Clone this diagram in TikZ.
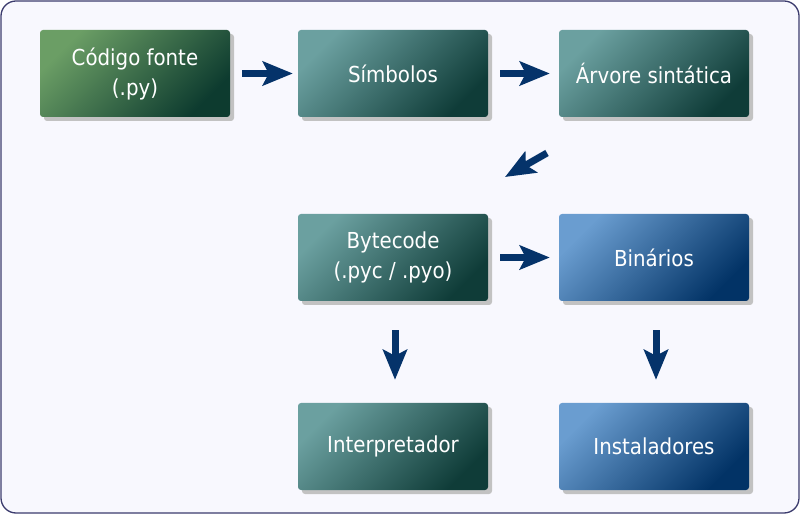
\documentclass[tikz,border=0pt]{standalone}
\usepackage{fontspec}
\setmainfont{DejaVu Sans Condensed}
\usetikzlibrary{arrows.meta,shadows}
\definecolor{bgfill}{HTML}{F8F8FE}
\definecolor{bgline}{HTML}{3C3C6E}
\definecolor{arrowblue}{HTML}{05336A}
\definecolor{greenL}{HTML}{6B9E65}
\definecolor{greenD}{HTML}{0D3B2F}
\definecolor{tealL}{HTML}{6BA0A0}
\definecolor{tealD}{HTML}{0F3C38}
\definecolor{blueL}{HTML}{6A9DD0}
\definecolor{blueD}{HTML}{023366}
\definecolor{shadowgray}{HTML}{C2C2C2}
\tikzset{
  box/.style={rectangle, rounded corners=3pt, minimum width=190pt, minimum height=87pt,
    text=white, align=center, font=\fontsize{22}{30}\selectfont,
    drop shadow={fill=shadowgray, opacity=1, shadow xshift=4pt, shadow yshift=-4pt}},
  greenbox/.style={box, top color=greenL, bottom color=greenD, shading angle=45},
  tealbox/.style={box, top color=tealL, bottom color=tealD, shading angle=45},
  bluebox/.style={box, top color=blueL, bottom color=blueD, shading angle=45},
  blockarrow/.style={draw=arrowblue, line width=7pt,
    -{Stealth[length=30pt,width=24pt,inset=6pt,fill=arrowblue]}},
}
\begin{document}
\begin{tikzpicture}[x=1pt,y=1pt]
\useasboundingbox (0,0) rectangle (800,514);
\draw[fill=bgfill, draw=bgline, line width=1.3pt, rounded corners=15pt] (1,1) rectangle (799,513);

\node[greenbox] (src) at (135,440.5) {Código fonte\\(.py)};
\node[tealbox] (sym) at (393,440.5) {Símbolos};
\node[tealbox] (ast) at (654,440.5) {Árvore sintática};
\node[tealbox] (byte) at (393,256.5) {Bytecode\\(.pyc / .pyo)};
\node[bluebox] (bin) at (654,256.5) {Binários};
\node[tealbox] (interp) at (393,67.5) {Interpretador};
\node[bluebox] (inst) at (654,67.5) {Instaladores};

\coordinate (d1) at (547,361);
\coordinate (d2) at (505,337);

\draw[blockarrow, shorten <=12pt, shorten >=5pt] (src.east) -- (sym.west);
\draw[blockarrow, shorten <=12pt, shorten >=9pt] (sym.east) -- (ast.west);
\draw[blockarrow] (d1) -- (d2);
\draw[blockarrow, shorten <=12pt, shorten >=9pt] (byte.east) -- (bin.west);
\draw[blockarrow, shorten <=29pt, shorten >=23pt] ([xshift=2pt]byte.south) -- ([xshift=2pt]interp.north);
\draw[blockarrow, shorten <=29pt, shorten >=23pt] ([xshift=2pt]bin.south) -- ([xshift=2pt]inst.north);
\end{tikzpicture}
\end{document}
